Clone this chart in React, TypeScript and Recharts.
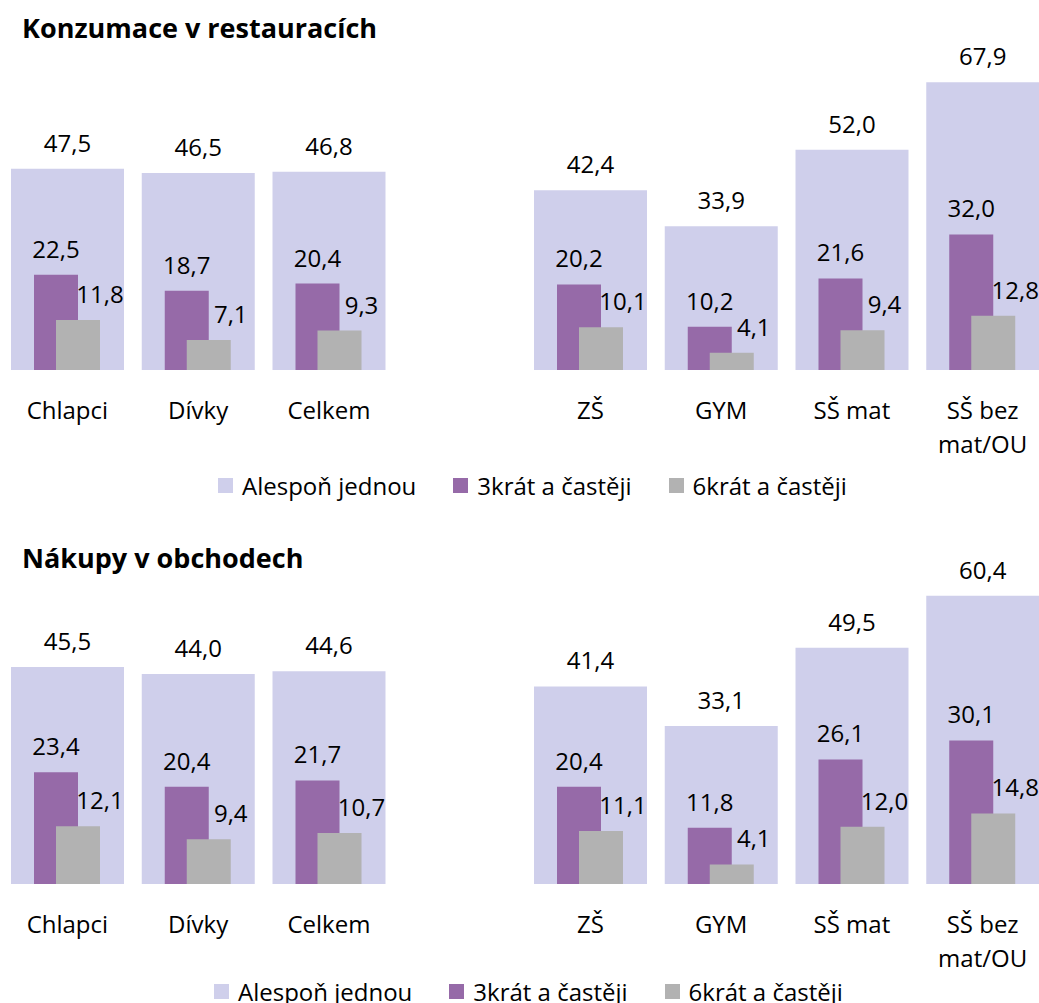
import { BarChart, Bar, XAxis, YAxis, LabelList, Legend } from 'recharts'

const FONT = '"Open Sans", "Noto Sans", sans-serif'

const categories = ['Chlapci', 'Dívky', 'Celkem', '', 'ZŠ', 'GYM', 'SŠ mat', 'SŠ bez\nmat/OU']

// Konzumace v restauracích
const restAlespon = [47.5, 46.5, 46.8, null, 42.4, 33.9, 52.0, 67.9]
const rest3krat = [22.5, 18.7, 20.4, null, 20.2, 10.2, 21.6, 32.0]
const rest6krat = [11.8, 7.1, 9.3, null, 10.1, 4.1, 9.4, 12.8]

// Nákupy v obchodech
const obchAlespon = [45.5, 44.0, 44.6, null, 41.4, 33.1, 49.5, 60.4]
const obch3krat = [23.4, 20.4, 21.7, null, 20.4, 11.8, 26.1, 30.1]
const obch6krat = [12.1, 9.4, 10.7, null, 11.1, 4.1, 12.0, 14.8]

const seriesNames = ['Alespoň jednou', '3krát a častěji', '6krát a častěji']
const seriesColors = ['#CFCFEB', '#966AA8', '#B2B2B2']

type Val = number | null

const fmt = (v: number) => v.toFixed(1).replace('.', ',')

const valueLabel = (dx: number) => (p: any) => {
  if (p.value == null) return null
  const cx = Number(p.x) + Number(p.width) / 2 + dx
  return (
    <text x={cx} y={Number(p.y) - 17} textAnchor="middle" fontSize={24} fill="#000" fontFamily={FONT}>
      {fmt(Number(p.value))}
    </text>
  )
}

function CatTick({ x, y, payload }: any) {
  const lines = String(payload.value).split('\n')
  return (
    <text x={x} y={y + 19} textAnchor="middle" fontSize={24} fill="#000" fontFamily={FONT}>
      {lines.map((l, i) => (
        <tspan key={i} x={x} dy={i === 0 ? 0 : 34}>{l}</tspan>
      ))}
    </text>
  )
}

const legendContent = (left: number) => () => (
  <div style={{ display: 'flex', alignItems: 'center', paddingLeft: left, height: 30, fontFamily: FONT, fontSize: 24, color: '#000' }}>
    {seriesNames.map((n, i) => (
      <div key={n} style={{ display: 'flex', alignItems: 'center', marginRight: 37 }}>
        <span style={{ display: 'inline-block', width: 15, height: 15, background: seriesColors[i], marginRight: 9 }} />
        <span>{n}</span>
      </div>
    ))}
  </div>
)

type PanelProps = {
  title: string
  alespon: Val[]
  krat3: Val[]
  krat6: Val[]
  yMax: number
  top: number
  height: number
  marginTop: number
  axisHeight: number
  titleTop: number
  legendTop: number
  legendLeft: number
}

function Panel(p: PanelProps) {
  const data = categories.map((cat, i) => ({ cat, a: p.alespon[i], b: p.krat3[i], c: p.krat6[i] }))
  return (
    <div style={{ position: 'absolute', left: 0, top: p.top, width: 1048, height: p.height }}>
      <div style={{ position: 'absolute', left: 22, top: p.titleTop, fontFamily: FONT, fontWeight: 700, fontSize: 27, lineHeight: 1, color: '#000', zIndex: 2, whiteSpace: 'nowrap' }}>
        {p.title}
      </div>
      <BarChart width={1048} height={p.height} data={data} barGap={-22}
        margin={{ top: p.marginTop, right: 0, left: 2, bottom: 0 }}>
        <XAxis xAxisId="small" dataKey="cat" height={p.axisHeight} axisLine={false} tickLine={false}
          tickSize={0} tickMargin={0} interval={0} tick={<CatTick />} />
        <XAxis xAxisId="big" dataKey="cat" hide />
        <YAxis hide domain={[0, p.yMax]} tickCount={p.yMax / 10 + 1} allowDataOverflow />
        <Bar xAxisId="big" dataKey="a" name={seriesNames[0]} fill={seriesColors[0]} barSize={113} isAnimationActive={false}>
          <LabelList dataKey="a" content={valueLabel(0)} />
        </Bar>
        <Bar xAxisId="small" dataKey="b" name={seriesNames[1]} fill={seriesColors[1]} barSize={44} isAnimationActive={false}>
          <LabelList dataKey="b" content={valueLabel(0)} />
        </Bar>
        <Bar xAxisId="small" dataKey="c" name={seriesNames[2]} fill={seriesColors[2]} barSize={44} isAnimationActive={false}>
          <LabelList dataKey="c" content={valueLabel(22)} />
        </Bar>
        <Legend verticalAlign="middle" align="center" content={legendContent(p.legendLeft)}
          wrapperStyle={{ top: p.legendTop, left: 0, width: 1048 }} />
      </BarChart>
    </div>
  )
}

export default function App() {
  return (
    <div style={{ position: 'relative', width: 1039, height: 1003, overflow: 'hidden', background: '#fff' }}>
      <style>{'body{margin:0}'}</style>
      <Panel title="Konzumace v restauracích" alespon={restAlespon} krat3={rest3krat} krat6={rest6krat}
        yMax={80} top={0} height={510} marginTop={31} axisHeight={140} titleTop={14} legendTop={470} legendLeft={218} />
      <Panel title="Nákupy v obchodech" alespon={obchAlespon} krat3={obch3krat} krat6={obch6krat}
        yMax={70} top={510} height={500} marginTop={40} axisHeight={126} titleTop={34} legendTop={466} legendLeft={214} />
    </div>
  )
}
